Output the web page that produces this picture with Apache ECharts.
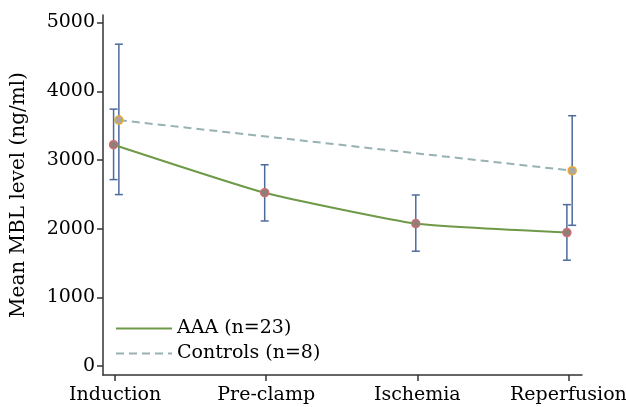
<!DOCTYPE html>
<html>
<head>
<meta charset="utf-8">
<script src="https://cdn.jsdelivr.net/npm/echarts@6/dist/echarts.min.js"></script>
<style>
  html, body { margin: 0; padding: 0; background: #fff; }
  #chart { width: 626px; height: 407px; }
</style>
</head>
<body>
<div id="chart"></div>
<script>
const categories = ['Induction', 'Pre-clamp', 'Ischemia', 'Reperfusion'];
const yTicks = [0, 1000, 2000, 3000, 4000, 5000];

const aaaMean = [3222, 2523, 2074, 1943];
const aaaLow = [2714, 2112, 1672, 1541];
const aaaHigh = [3740, 2930, 2490, 2350];

// controls only measured at induction and reperfusion
const ctrlMean = [3580, null, null, 2844];
const ctrlLow = [2496, null, null, 2049];
const ctrlHigh = [4685, null, null, 3644];

const FONT = 'DejaVu Serif';
const aaaShift = -0.01;
const ctrlShift = 0.025;

function points(vals, shift) {
  return vals.map((v, i) => [i + shift, v]);
}
function bars(lo, hi, shift) {
  const out = [];
  for (let i = 0; i < lo.length; i++) {
    if (lo[i] != null) out.push([i + shift, lo[i], hi[i]]);
  }
  return out;
}

function renderErr(params, api) {
  const x = api.value(0);
  const lo = api.coord([x, api.value(1)]);
  const hi = api.coord([x, api.value(2)]);
  const cap = 4;
  const style = { stroke: '#4d6a9c', lineWidth: 1.5 };
  return {
    type: 'group',
    children: [
      { type: 'line', shape: { x1: lo[0], y1: lo[1], x2: hi[0], y2: hi[1] }, style },
      { type: 'line', shape: { x1: lo[0] - cap, y1: lo[1], x2: lo[0] + cap, y2: lo[1] }, style },
      { type: 'line', shape: { x1: hi[0] - cap, y1: hi[1], x2: hi[0] + cap, y2: hi[1] }, style }
    ]
  };
}

const myChart = echarts.init(document.getElementById('chart'));
const option = {
  backgroundColor: '#fff',
  animation: false,
  grid: { left: 103, right: 44, top: 15, bottom: 32, outerBoundsMode: 'none', containLabel: false },
  legend: {
    orient: 'vertical',
    left: 110,
    top: 314,
    itemWidth: 56,
    itemHeight: 14,
    itemGap: 6,
    textStyle: { fontFamily: FONT, fontSize: 19, color: '#000' },
    itemStyle: { opacity: 0 },
    data: ['AAA (n=23)', 'Controls (n=8)']
  },
  xAxis: {
    type: 'value',
    min: -0.08,
    max: 3.09,
    splitLine: { show: false },
    axisLine: { onZero: false, lineStyle: { color: '#333', width: 1.5 } },
    axisTick: { customValues: [0, 1, 2, 3], length: 6, lineStyle: { color: '#333', width: 1.5 } },
    axisLabel: {
      customValues: [0, 1, 2, 3],
      formatter: v => categories[Math.round(v)],
      fontFamily: FONT, fontSize: 19, color: '#000', margin: 11
    }
  },
  yAxis: {
    type: 'value',
    min: -130,
    max: 5110,
    name: 'Mean MBL level (ng/ml)',
    nameLocation: 'middle',
    nameGap: 74,
    nameTextStyle: { fontFamily: FONT, fontSize: 20, color: '#000' },
    splitLine: { show: false },
    axisLine: { show: true, onZero: false, lineStyle: { color: '#333', width: 1.5 } },
    axisTick: { customValues: yTicks, length: 6, lineStyle: { color: '#333', width: 1.5 } },
    axisLabel: {
      customValues: yTicks,
      formatter: v => String(v),
      fontFamily: FONT, fontSize: 19, color: '#000', margin: 8
    }
  },
  series: [
    {
      type: 'custom',
      name: 'aaaErr',
      renderItem: renderErr,
      data: bars(aaaLow, aaaHigh, aaaShift),
      z: 1
    },
    {
      type: 'custom',
      name: 'ctrlErr',
      renderItem: renderErr,
      data: bars(ctrlLow, ctrlHigh, ctrlShift),
      z: 1
    },
    {
      name: 'Controls (n=8)',
      type: 'line',
      data: points(ctrlMean, ctrlShift),
      connectNulls: true,
      symbol: 'circle',
      symbolSize: 8,
      lineStyle: { color: '#98b1b2', width: 2, type: [8, 5] },
      itemStyle: { color: '#a8a8a0', borderColor: '#e8a838', borderWidth: 1.5 },
      z: 3
    },
    {
      name: 'AAA (n=23)',
      type: 'line',
      data: points(aaaMean, aaaShift),
      smooth: 0.15,
      symbol: 'circle',
      symbolSize: 8,
      lineStyle: { color: '#6e9a48', width: 2 },
      itemStyle: { color: '#8e7f78', borderColor: '#d06e74', borderWidth: 1.5 },
      z: 4
    }
  ]
};
myChart.setOption(option);
window.addEventListener('resize', () => myChart.resize());
</script>
</body>
</html>
